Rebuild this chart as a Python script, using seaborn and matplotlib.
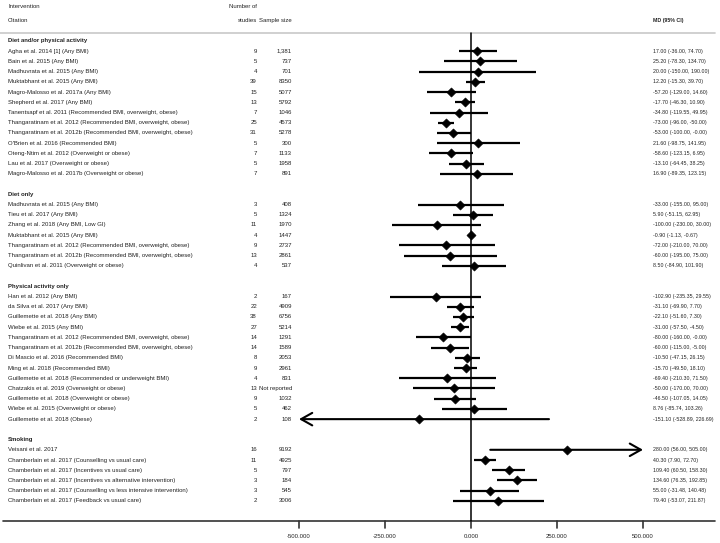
import numpy as np
import pandas as pd
import seaborn as sns
import matplotlib.pyplot as plt

# Data
sections = ['Diet and/or physical activity', 'Diet only', 'Physical activity only', 'Smoking']

citations = [
    # Diet and/or physical activity
    ['Agha et al. 2014 [1] (Any BMI)', 'Bain et al. 2015 (Any BMI)', 'Madhuvrata et al. 2015 (Any BMI)',
     'Muktabhant et al. 2015 (Any BMI)', 'Magro-Malosso et al. 2017a (Any BMI)', 'Shepherd et al. 2017 (Any BMI)',
     'Tanentsapf et al. 2011 (Recommended BMI, overweight, obese)',
     'Thangaratinam et al. 2012 (Recommended BMI, overweight, obese)',
     'Thangaratinam et al. 2012b (Recommended BMI, overweight, obese)',
     "O'Brien et al. 2016 (Recommended BMI)", 'Oteng-Ntim et al. 2012 (Overweight or obese)',
     'Lau et al. 2017 (Overweight or obese)', 'Magro-Malosso et al. 2017b (Overweight or obese)'],
    # Diet only
    ['Madhuvrata et al. 2015 (Any BMI)', 'Tieu et al. 2017 (Any BMI)', 'Zhang et al. 2018 (Any BMI, Low GI)',
     'Muktabhant et al. 2015 (Any BMI)', 'Thangaratinam et al. 2012 (Recommended BMI, overweight, obese)',
     'Thangaratinam et al. 2012b (Recommended BMI, overweight, obese)',
     'Quinlivan et al. 2011 (Overweight or obese)'],
    # Physical activity only
    ['Han et al. 2012 (Any BMI)', 'da Silva et al. 2017 (Any BMI)', 'Guillemette et al. 2018 (Any BMI)',
     'Wiebe et al. 2015 (Any BMI)', 'Thangaratinam et al. 2012 (Recommended BMI, overweight, obese)',
     'Thangaratinam et al. 2012b (Recommended BMI, overweight, obese)',
     'Di Mascio et al. 2016 (Recommended BMI)', 'Ming et al. 2018 (Recommended BMI)',
     'Guillemette et al. 2018 (Recommended or underweight BMI)', 'Chatzakis et al. 2019 (Overweight or obese)',
     'Guillemette et al. 2018 (Overweight or obese)', 'Wiebe et al. 2015 (Overweight or obese)',
     'Guillemette et al. 2018 (Obese)'],
    # Smoking
    ['Veisani et al. 2017', 'Chamberlain et al. 2017 (Counselling vs usual care)',
     'Chamberlain et al. 2017 (Incentives vs usual care)',
     'Chamberlain et al. 2017 (Incentives vs alternative intervention)',
     'Chamberlain et al. 2017 (Counselling vs less intensive intervention)',
     'Chamberlain et al. 2017 (Feedback vs usual care)'],
]

n_studies = [
    [9, 5, 4, 39, 15, 13, 7, 25, 31, 5, 7, 5, 7],
    [3, 5, 11, 4, 9, 13, 4],
    [2, 22, 38, 27, 14, 14, 8, 9, 4, 13, 9, 5, 2],
    [16, 11, 5, 3, 3, 2],
]

sample_size = [
    ['1,381', '737', '701', '8350', '5077', '5792', '1046', '4573', '5278', '300', '1133', '1958', '891'],
    ['408', '1324', '1970', '1447', '2737', '2861', '537'],
    ['167', '4909', '6756', '5214', '1291', '1589', '2053', '2961', '831', 'Not reported', '1032', '462', '108'],
    ['9192', '4925', '797', '184', '545', '3006'],
]

md = [
    [17.00, 25.20, 20.00, 12.20, -57.20, -17.70, -34.80, -73.00, -53.00, 21.60, -58.60, -13.10, 16.90],
    [-33.00, 5.90, -100.00, -0.90, -72.00, -60.00, 8.50],
    [-102.90, -31.10, -22.10, -31.00, -80.00, -60.00, -10.50, -15.70, -69.40, -50.00, -46.50, 8.76, -151.10],
    [280.00, 40.30, 109.40, 134.60, 55.00, 79.40],
]

ci_low = [
    [-36.00, -78.30, -150.00, -15.30, -129.00, -46.30, -119.55, -96.00, -100.00, -98.75, -123.15, -64.45, -89.35],
    [-155.00, -51.15, -230.00, -1.13, -210.00, -195.00, -84.90],
    [-235.35, -69.90, -51.60, -57.50, -160.00, -115.00, -47.15, -49.50, -210.30, -170.00, -107.05, -85.74, -528.89],
    [56.00, 7.90, 60.50, 76.35, -31.48, -53.07],
]

ci_high = [
    [74.70, 134.70, 190.00, 39.70, 14.60, 10.90, 49.95, -50.00, -0.00, 141.95, 6.95, 38.25, 123.15],
    [95.00, 62.95, 30.00, -0.67, 70.00, 75.00, 101.90],
    [29.55, 7.70, 7.30, -4.50, -0.00, -5.00, 26.15, 18.10, 71.50, 70.00, 14.05, 103.26, 226.69],
    [505.00, 72.70, 158.30, 192.85, 140.48, 211.87],
]

ticks = [-500, -250, 0, 250, 500]
tick_labels = ['-500.000', '-250.000', '0.000', '250.000', '500.000']

# Build a long table with row positions
rows = []
headers = []
r = 0
for s, sec in enumerate(sections):
    if s > 0:
        r += 1  # blank row
    headers.append((sec, r))
    r += 1
    for i, c in enumerate(citations[s]):
        rows.append(dict(section=sec, citation=c, k=n_studies[s][i], n=sample_size[s][i],
                         md=md[s][i], lo=ci_low[s][i], hi=ci_high[s][i], row=r))
        r += 1
df = pd.DataFrame(rows)
axis_row = r + 1

sns.set_theme(style='white')
plt.rcParams['font.family'] = ['Liberation Sans', 'DejaVu Sans']

W, H = 720, 543
fig = plt.figure(figsize=(W / 100, H / 100), dpi=100)
ax = fig.add_axes([0, 0, 1, 1])

# pixel geometry of the forest region
px0, px_per = 471, 86 / 250.0
py0, py_per = 41, 10.22
xlim = ((0 - px0) / px_per, (W - px0) / px_per)
ylim = ((H - py0) / py_per, (0 - py0) / py_per)

def xpx(p):
    return (p - px0) / px_per

tc = '#222222'
fs = 4.3
fs_ci = 3.8

# top grey rule and bottom axis
top_row = (33 - py0) / py_per
ax.plot([xpx(0), xpx(715)], [top_row, top_row], color='#c8c8c8', lw=1.2)
ax.plot([xpx(3), xpx(715)], [axis_row, axis_row], color='#333333', lw=1.2)
for t, lab in zip(ticks, tick_labels):
    ax.plot([t, t], [axis_row, axis_row + 0.7], color='#333333', lw=1.2)
    ax.text(t, axis_row + 1.45, lab, ha='center', va='center', fontsize=fs, color=tc)
ax.plot([0, 0], [top_row, axis_row], color='black', lw=1.1)

# confidence intervals (arrows where they run past the axis)
arrow_kw = dict(arrowstyle='->,head_length=0.8,head_width=0.45', lw=1.5,
                color='black', shrinkA=0, shrinkB=0, mutation_scale=10)
for _, d in df.iterrows():
    lo, hi = d['lo'], d['hi']
    if lo < -500:
        ax.annotate('', xy=(-500, d['row']), xytext=(hi, d['row']), arrowprops=arrow_kw)
    elif hi > 500:
        ax.annotate('', xy=(500, d['row']), xytext=(lo, d['row']), arrowprops=arrow_kw)
    else:
        ax.plot([lo, hi], [d['row'], d['row']], color='black', lw=1.6, solid_capstyle='butt')

sns.scatterplot(data=df, x='md', y='row', marker='D', s=22, color='black', edgecolor='black',
                linewidth=0.4, ax=ax, zorder=5, legend=False)
ax.set_xlim(*xlim)
ax.set_ylim(*ylim)
ax.axis('off')

# text columns
x_cit, x_k, x_n, x_ci = xpx(8), xpx(257), xpx(292), xpx(653)
hdr1 = (7 - py0) / py_per
hdr2 = (21 - py0) / py_per
ax.text(x_cit, hdr1, 'Intervention', fontsize=fs, color=tc, va='center')
ax.text(x_cit, hdr2, 'Citation', fontsize=fs, color=tc, va='center')
ax.text(x_k, hdr1, 'Number of', fontsize=fs, color=tc, va='center', ha='right')
ax.text(x_k, hdr2, 'studies', fontsize=fs, color=tc, va='center', ha='right')
ax.text(x_n, hdr2, 'Sample size', fontsize=fs, color=tc, va='center', ha='right')
ax.text(x_ci, hdr2, 'MD (95% CI)', fontsize=fs_ci, color=tc, va='center', fontweight='bold')

for sec, hr in headers:
    ax.text(x_cit, hr, sec, fontsize=fs, color=tc, va='center', fontweight='bold')

for _, d in df.iterrows():
    y = d['row']
    ax.text(x_cit, y, d['citation'], fontsize=fs, color=tc, va='center')
    ax.text(x_k, y, str(d['k']), fontsize=fs, color=tc, va='center', ha='right')
    ax.text(x_n, y, d['n'], fontsize=fs, color=tc, va='center', ha='right')
    ax.text(x_ci, y, f"{d['md']:.2f} ({d['lo']:.2f}, {d['hi']:.2f})", fontsize=fs_ci, color=tc, va='center')

fig.savefig('out.png', dpi=100)
